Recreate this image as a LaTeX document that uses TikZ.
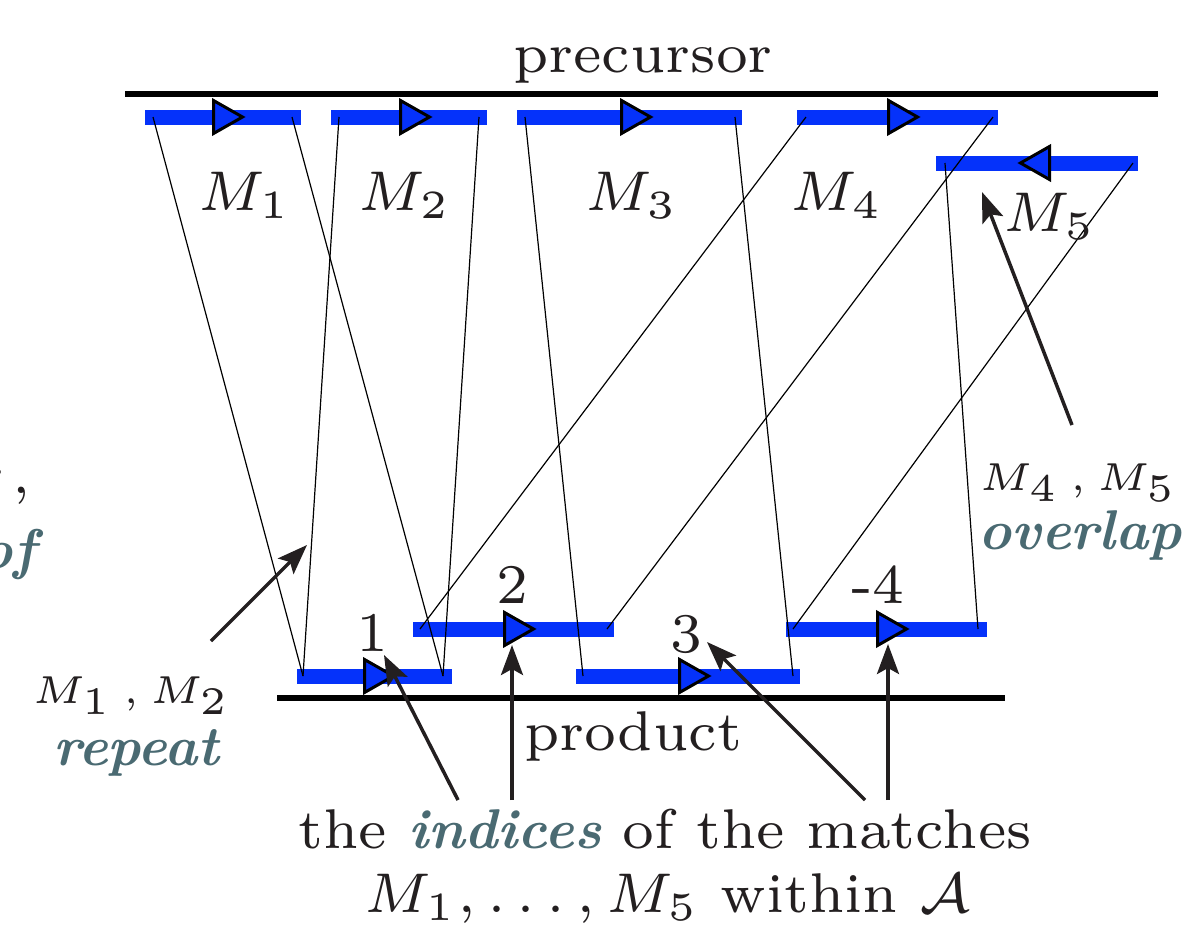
\documentclass[tikz,border=0pt]{standalone}
\usetikzlibrary{arrows.meta}
\definecolor{barblue}{RGB}{5,50,250}
\definecolor{tealish}{RGB}{74,106,114}
\definecolor{ink}{RGB}{35,31,32}
\begin{document}
\begin{tikzpicture}[x=0.5pt,y=-0.5pt,
  bar/.style={barblue,line width=7.5pt},
  baseline rule/.style={black,line width=2.75pt},
  link/.style={black,line width=0.6pt},
  note/.style={ink,line width=1.75pt,-{Stealth[length=15pt,width=11pt,inset=3pt]}},
  lbl/.style={text=ink,inner sep=0pt,scale=4.0,anchor=base,font=\scriptsize},
  sml/.style={text=ink,inner sep=0pt,scale=3.9,anchor=base,font=\tiny},
  emph/.style={text=tealish,font=\scriptsize\bfseries\itshape},
  tri/.pic={\draw[black,line width=1.5pt,fill=barblue,line join=miter]
     (0,-16.5) -- (29,0) -- (0,16.5) -- cycle;}]
\useasboundingbox (0,0) rectangle (1185,928);
\clip (0,0) rectangle (1185,928);

% base lines
\coordinate (precL) at (125,94);  \coordinate (precR) at (1158,94);
\coordinate (prodL) at (277,698); \coordinate (prodR) at (1005,698);
\draw[baseline rule] (precL) -- (precR);
\draw[baseline rule] (prodL) -- (prodR);

% bars on precursor
\coordinate (b1a) at (145,117); \coordinate (b1b) at (301,117);
\coordinate (b2a) at (331,117); \coordinate (b2b) at (487,117);
\coordinate (b3a) at (517,117); \coordinate (b3b) at (742,117);
\coordinate (b4a) at (797,117); \coordinate (b4b) at (998,117);
\coordinate (b5a) at (936,163); \coordinate (b5b) at (1138,163);
% bars on product
\coordinate (bAa) at (297,676); \coordinate (bAb) at (452,676);
\coordinate (bBa) at (576,676); \coordinate (bBb) at (800,676);
\coordinate (bCa) at (413,629); \coordinate (bCb) at (614,629);
\coordinate (bDa) at (786,629); \coordinate (bDb) at (987,629);
\foreach \b in {1,2,3,4,5,A,B,C,D} \draw[bar] (b\b a) -- (b\b b);

% link end points
\coordinate (t1l) at (153,117); \coordinate (t1r) at (292,117);
\coordinate (t2l) at (339,117); \coordinate (t2r) at (479,117);
\coordinate (t3l) at (525,117); \coordinate (t3r) at (735,117);
\coordinate (t4l) at (806,117); \coordinate (t4r) at (993,117);
\coordinate (t5l) at (945,163); \coordinate (t5r) at (1133,163);
\coordinate (uAl) at (303,676); \coordinate (uAr) at (443,676);
\coordinate (uBl) at (583,676); \coordinate (uBr) at (793,676);
\coordinate (uCl) at (420,629); \coordinate (uCr) at (607,629);
\coordinate (uDl) at (793,629); \coordinate (uDr) at (978,629);
\draw[link] (t1l) -- (uAl);
\draw[link] (t1r) -- (uAr);
\draw[link] (t2l) -- (uAl);
\draw[link] (t2r) -- (uAr);
\draw[link] (t3l) -- (uBl);
\draw[link] (t3r) -- (uBr);
\draw[link] (t4l) -- (uCl);
\draw[link] (t4r) -- (uCr);
\draw[link] (t5l) -- (uDr);
\draw[link] (t5r) -- (uDl);

% direction triangles
\pic at (213.5,117) {tri};
\pic at (400.5,117) {tri};
\pic at (621.5,117) {tri};
\pic at (888.5,117) {tri};
\pic[xscale=-1] at (1049.5,163) {tri};
\pic at (364.5,676) {tri};
\pic at (679.5,676) {tri};
\pic at (504.5,629) {tri};
\pic at (877.5,629) {tri};

% labels
\node[lbl] (prec) at (643,72) {precursor};
\node[lbl] (prod) at (633,750) {product};
\node[lbl] (lM1) at (245,210) {$M_1$};
\node[lbl] (lM2) at (405,210) {$M_2$};
\node[lbl] (lM3) at (632,210) {$M_3$};
\node[lbl] (lM4) at (837,210) {$M_4$};
\node[lbl] (lM5) at (1050,231) {$M_5$};
\node[lbl] (n1) at (372,651) {1};
\node[lbl] (n2) at (512,603) {2};
\node[lbl] (n3) at (686,652) {3};
\node[lbl] (n4) at (878,603) {-4};
\node[sml] (ov1) at (1078,490) {$M_4\,,M_5$};
\node[lbl,emph] (ov2) at (1080,549) {overlap};
\node[sml] (rp1) at (131,703) {$M_1\,,M_2$};
\node[lbl,emph] (rp2) at (136,765) {repeat};
\node[lbl] (cap1) at (665,848) {the \textcolor{tealish}{\bfseries\itshape indices} of the matches};
\node[lbl] (cap2) at (668,912) {$M_1,\ldots,M_5$ within $\mathcal{A}$};
\node[lbl,anchor=base east] (cutA) at (32,493) {r\,,};
\node[lbl,emph,anchor=base east] (cutB) at (37,568) {of};

% annotation arrows
\coordinate (ovS) at (1072,425); \coordinate (ovT) at (982,192);
\coordinate (rpS) at (211,641);  \coordinate (rpT) at (307,545);
\coordinate (iS1) at (458,800);  \coordinate (iT1) at (384,655);
\coordinate (iS2) at (512,800);  \coordinate (iT2) at (512,645);
\coordinate (iS3) at (865,800);  \coordinate (iT3) at (707,642);
\coordinate (iS4) at (888,800);  \coordinate (iT4) at (888,644);
\draw[note] (ovS) -- (ovT);
\draw[note] (rpS) -- (rpT);
\draw[note] (iS1) -- (iT1);
\draw[note] (iS2) -- (iT2);
\draw[note] (iS3) -- (iT3);
\draw[note] (iS4) -- (iT4);
\end{tikzpicture}
\end{document}
